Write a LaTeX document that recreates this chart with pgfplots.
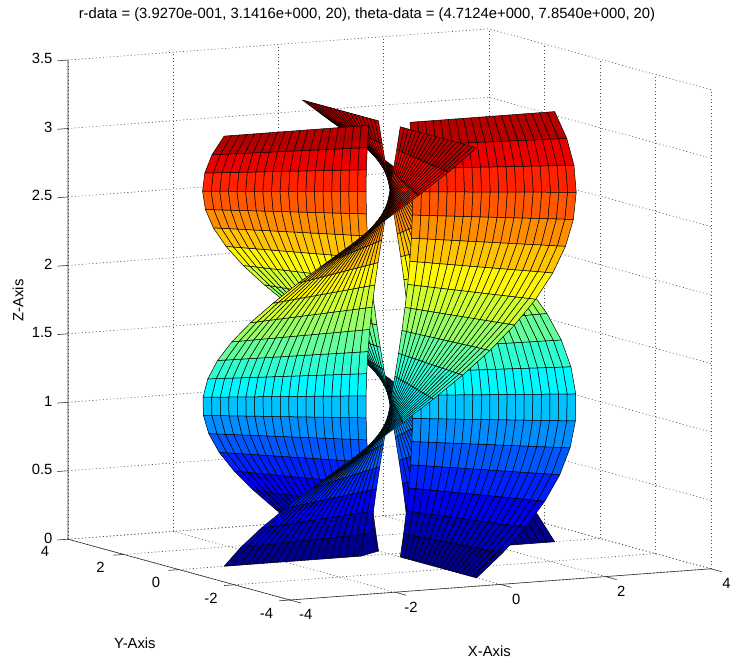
\documentclass[border=0pt]{standalone}
\usepackage{fontspec}
\setmainfont{Liberation Sans}
\usepackage{pgfplots}
\usepackage{pgfplotstable}
\pgfplotsset{compat=1.18}
\pgfplotstableread[row sep=\\]{
x y z\\
0 -0.393 0\\ 0.065 -0.387 0.165\\ 0.128 -0.371 0.331\\ 0.187 -0.345 0.496\\ 0.241 -0.310 0.661\\ 0.289 -0.266 0.827\\ 0.329 -0.215 0.992\\ 0.360 -0.158 1.157\\ 0.381 -0.096 1.323\\ 0.391 -0.032 1.488\\ 0.391 0.032 1.653\\ 0.381 0.096 1.819\\ 0.360 0.158 1.984\\ 0.329 0.215 2.150\\ 0.289 0.266 2.315\\ 0.241 0.310 2.480\\ 0.187 0.345 2.646\\ 0.128 0.371 2.811\\ 0.065 0.387 2.976\\ 0 0.393 3.142\\
0 -0.537 0\\ 0.088 -0.530 0.165\\ 0.174 -0.508 0.331\\ 0.256 -0.473 0.496\\ 0.330 -0.424 0.661\\ 0.395 -0.364 0.827\\ 0.450 -0.294 0.992\\ 0.492 -0.216 1.157\\ 0.521 -0.132 1.323\\ 0.536 -0.044 1.488\\ 0.536 0.044 1.653\\ 0.521 0.132 1.819\\ 0.492 0.216 1.984\\ 0.450 0.294 2.150\\ 0.395 0.364 2.315\\ 0.330 0.424 2.480\\ 0.256 0.473 2.646\\ 0.174 0.508 2.811\\ 0.088 0.530 2.976\\ 0 0.537 3.142\\
0 -0.682 0\\ 0.112 -0.673 0.165\\ 0.221 -0.645 0.331\\ 0.325 -0.600 0.496\\ 0.419 -0.538 0.661\\ 0.502 -0.462 0.827\\ 0.571 -0.373 0.992\\ 0.625 -0.274 1.157\\ 0.661 -0.167 1.323\\ 0.680 -0.056 1.488\\ 0.680 0.056 1.653\\ 0.661 0.167 1.819\\ 0.625 0.274 1.984\\ 0.571 0.373 2.150\\ 0.502 0.462 2.315\\ 0.419 0.538 2.480\\ 0.325 0.600 2.646\\ 0.221 0.645 2.811\\ 0.112 0.673 2.976\\ 0 0.682 3.142\\
0 -0.827 0\\ 0.136 -0.815 0.165\\ 0.268 -0.782 0.331\\ 0.393 -0.727 0.496\\ 0.508 -0.652 0.661\\ 0.608 -0.560 0.827\\ 0.692 -0.452 0.992\\ 0.757 -0.332 1.157\\ 0.801 -0.203 1.323\\ 0.824 -0.068 1.488\\ 0.824 0.068 1.653\\ 0.801 0.203 1.819\\ 0.757 0.332 1.984\\ 0.692 0.452 2.150\\ 0.608 0.560 2.315\\ 0.508 0.652 2.480\\ 0.393 0.727 2.646\\ 0.268 0.782 2.811\\ 0.136 0.815 2.976\\ 0 0.827 3.142\\
0 -0.971 0\\ 0.160 -0.958 0.165\\ 0.315 -0.919 0.331\\ 0.462 -0.854 0.496\\ 0.597 -0.767 0.661\\ 0.715 -0.658 0.827\\ 0.813 -0.531 0.992\\ 0.890 -0.390 1.157\\ 0.942 -0.238 1.323\\ 0.968 -0.080 1.488\\ 0.968 0.080 1.653\\ 0.942 0.238 1.819\\ 0.890 0.390 1.984\\ 0.813 0.531 2.150\\ 0.715 0.658 2.315\\ 0.597 0.767 2.480\\ 0.462 0.854 2.646\\ 0.315 0.919 2.811\\ 0.160 0.958 2.976\\ 0 0.971 3.142\\
0 -1.116 0\\ 0.184 -1.101 0.165\\ 0.362 -1.056 0.331\\ 0.531 -0.982 0.496\\ 0.686 -0.881 0.661\\ 0.821 -0.756 0.827\\ 0.934 -0.611 0.992\\ 1.022 -0.448 1.157\\ 1.082 -0.274 1.323\\ 1.112 -0.092 1.488\\ 1.112 0.092 1.653\\ 1.082 0.274 1.819\\ 1.022 0.448 1.984\\ 0.934 0.611 2.150\\ 0.821 0.756 2.315\\ 0.686 0.881 2.480\\ 0.531 0.982 2.646\\ 0.362 1.056 2.811\\ 0.184 1.101 2.976\\ 0 1.116 3.142\\
0 -1.261 0\\ 0.208 -1.243 0.165\\ 0.409 -1.192 0.331\\ 0.600 -1.109 0.496\\ 0.774 -0.995 0.661\\ 0.928 -0.854 0.827\\ 1.056 -0.690 0.992\\ 1.155 -0.506 1.157\\ 1.222 -0.310 1.323\\ 1.256 -0.104 1.488\\ 1.256 0.104 1.653\\ 1.222 0.310 1.819\\ 1.155 0.506 1.984\\ 1.056 0.690 2.150\\ 0.928 0.854 2.315\\ 0.774 0.995 2.480\\ 0.600 1.109 2.646\\ 0.409 1.192 2.811\\ 0.208 1.243 2.976\\ 0 1.261 3.142\\
0 -1.405 0\\ 0.231 -1.386 0.165\\ 0.456 -1.329 0.331\\ 0.669 -1.236 0.496\\ 0.863 -1.109 0.661\\ 1.034 -0.952 0.827\\ 1.177 -0.769 0.992\\ 1.287 -0.565 1.157\\ 1.362 -0.345 1.323\\ 1.401 -0.116 1.488\\ 1.401 0.116 1.653\\ 1.362 0.345 1.819\\ 1.287 0.565 1.984\\ 1.177 0.769 2.150\\ 1.034 0.952 2.315\\ 0.863 1.109 2.480\\ 0.669 1.236 2.646\\ 0.456 1.329 2.811\\ 0.231 1.386 2.976\\ 0 1.405 3.142\\
0 -1.550 0\\ 0.255 -1.529 0.165\\ 0.503 -1.466 0.331\\ 0.738 -1.363 0.496\\ 0.952 -1.223 0.661\\ 1.140 -1.050 0.827\\ 1.298 -0.848 0.992\\ 1.420 -0.623 1.157\\ 1.503 -0.381 1.323\\ 1.545 -0.128 1.488\\ 1.545 0.128 1.653\\ 1.503 0.381 1.819\\ 1.420 0.623 1.984\\ 1.298 0.848 2.150\\ 1.140 1.050 2.315\\ 0.952 1.223 2.480\\ 0.738 1.363 2.646\\ 0.503 1.466 2.811\\ 0.255 1.529 2.976\\ 0 1.550 3.142\\
0 -1.695 0\\ 0.279 -1.672 0.165\\ 0.550 -1.603 0.331\\ 0.807 -1.491 0.496\\ 1.041 -1.337 0.661\\ 1.247 -1.148 0.827\\ 1.419 -0.927 0.992\\ 1.552 -0.681 1.157\\ 1.643 -0.416 1.323\\ 1.689 -0.140 1.488\\ 1.689 0.140 1.653\\ 1.643 0.416 1.819\\ 1.552 0.681 1.984\\ 1.419 0.927 2.150\\ 1.247 1.148 2.315\\ 1.041 1.337 2.480\\ 0.807 1.491 2.646\\ 0.550 1.603 2.811\\ 0.279 1.672 2.976\\ 0 1.695 3.142\\
0 -1.840 0\\ 0.303 -1.814 0.165\\ 0.597 -1.740 0.331\\ 0.875 -1.618 0.496\\ 1.130 -1.452 0.661\\ 1.353 -1.246 0.827\\ 1.540 -1.006 0.992\\ 1.685 -0.739 1.157\\ 1.783 -0.452 1.323\\ 1.833 -0.152 1.488\\ 1.833 0.152 1.653\\ 1.783 0.452 1.819\\ 1.685 0.739 1.984\\ 1.540 1.006 2.150\\ 1.353 1.246 2.315\\ 1.130 1.452 2.480\\ 0.875 1.618 2.646\\ 0.597 1.740 2.811\\ 0.303 1.814 2.976\\ 0 1.840 3.142\\
0 -1.984 0\\ 0.327 -1.957 0.165\\ 0.644 -1.877 0.331\\ 0.944 -1.745 0.496\\ 1.219 -1.566 0.661\\ 1.460 -1.344 0.827\\ 1.661 -1.085 0.992\\ 1.817 -0.797 1.157\\ 1.923 -0.487 1.323\\ 1.977 -0.164 1.488\\ 1.977 0.164 1.653\\ 1.923 0.487 1.819\\ 1.817 0.797 1.984\\ 1.661 1.085 2.150\\ 1.460 1.344 2.315\\ 1.219 1.566 2.480\\ 0.944 1.745 2.646\\ 0.644 1.877 2.811\\ 0.327 1.957 2.976\\ 0 1.984 3.142\\
0 -2.129 0\\ 0.350 -2.100 0.165\\ 0.691 -2.013 0.331\\ 1.013 -1.872 0.496\\ 1.308 -1.680 0.661\\ 1.566 -1.442 0.827\\ 1.782 -1.164 0.992\\ 1.950 -0.855 1.157\\ 2.064 -0.523 1.323\\ 2.122 -0.176 1.488\\ 2.122 0.176 1.653\\ 2.064 0.523 1.819\\ 1.950 0.855 1.984\\ 1.782 1.164 2.150\\ 1.566 1.442 2.315\\ 1.308 1.680 2.480\\ 1.013 1.872 2.646\\ 0.691 2.013 2.811\\ 0.350 2.100 2.976\\ 0 2.129 3.142\\
0 -2.274 0\\ 0.374 -2.242 0.165\\ 0.738 -2.150 0.331\\ 1.082 -1.999 0.496\\ 1.396 -1.794 0.661\\ 1.673 -1.540 0.827\\ 1.903 -1.244 0.992\\ 2.082 -0.913 1.157\\ 2.204 -0.558 1.323\\ 2.266 -0.188 1.488\\ 2.266 0.188 1.653\\ 2.204 0.558 1.819\\ 2.082 0.913 1.984\\ 1.903 1.244 2.150\\ 1.673 1.540 2.315\\ 1.396 1.794 2.480\\ 1.082 1.999 2.646\\ 0.738 2.150 2.811\\ 0.374 2.242 2.976\\ 0 2.274 3.142\\
0 -2.418 0\\ 0.398 -2.385 0.165\\ 0.785 -2.287 0.331\\ 1.151 -2.127 0.496\\ 1.485 -1.908 0.661\\ 1.779 -1.638 0.827\\ 2.024 -1.323 0.992\\ 2.215 -0.971 1.157\\ 2.344 -0.594 1.323\\ 2.410 -0.200 1.488\\ 2.410 0.200 1.653\\ 2.344 0.594 1.819\\ 2.215 0.971 1.984\\ 2.024 1.323 2.150\\ 1.779 1.638 2.315\\ 1.485 1.908 2.480\\ 1.151 2.127 2.646\\ 0.785 2.287 2.811\\ 0.398 2.385 2.976\\ 0 2.418 3.142\\
0 -2.563 0\\ 0.422 -2.528 0.165\\ 0.832 -2.424 0.331\\ 1.220 -2.254 0.496\\ 1.574 -2.023 0.661\\ 1.886 -1.736 0.827\\ 2.146 -1.402 0.992\\ 2.347 -1.030 1.157\\ 2.484 -0.629 1.323\\ 2.554 -0.212 1.488\\ 2.554 0.212 1.653\\ 2.484 0.629 1.819\\ 2.347 1.030 1.984\\ 2.146 1.402 2.150\\ 1.886 1.736 2.315\\ 1.574 2.023 2.480\\ 1.220 2.254 2.646\\ 0.832 2.424 2.811\\ 0.422 2.528 2.976\\ 0 2.563 3.142\\
0 -2.708 0\\ 0.446 -2.671 0.165\\ 0.879 -2.561 0.331\\ 1.289 -2.381 0.496\\ 1.663 -2.137 0.661\\ 1.992 -1.834 0.827\\ 2.267 -1.481 0.992\\ 2.479 -1.088 1.157\\ 2.625 -0.665 1.323\\ 2.698 -0.224 1.488\\ 2.698 0.224 1.653\\ 2.625 0.665 1.819\\ 2.479 1.088 1.984\\ 2.267 1.481 2.150\\ 1.992 1.834 2.315\\ 1.663 2.137 2.480\\ 1.289 2.381 2.646\\ 0.879 2.561 2.811\\ 0.446 2.671 2.976\\ 0 2.708 3.142\\
0 -2.852 0\\ 0.469 -2.813 0.165\\ 0.926 -2.698 0.331\\ 1.358 -2.508 0.496\\ 1.752 -2.251 0.661\\ 2.098 -1.932 0.827\\ 2.388 -1.560 0.992\\ 2.612 -1.146 1.157\\ 2.765 -0.700 1.323\\ 2.843 -0.235 1.488\\ 2.843 0.235 1.653\\ 2.765 0.700 1.819\\ 2.612 1.146 1.984\\ 2.388 1.560 2.150\\ 2.098 1.932 2.315\\ 1.752 2.251 2.480\\ 1.358 2.508 2.646\\ 0.926 2.698 2.811\\ 0.469 2.813 2.976\\ 0 2.852 3.142\\
0 -2.997 0\\ 0.493 -2.956 0.165\\ 0.973 -2.835 0.331\\ 1.426 -2.636 0.496\\ 1.841 -2.365 0.661\\ 2.205 -2.030 0.827\\ 2.509 -1.639 0.992\\ 2.744 -1.204 1.157\\ 2.905 -0.736 1.323\\ 2.987 -0.247 1.488\\ 2.987 0.247 1.653\\ 2.905 0.736 1.819\\ 2.744 1.204 1.984\\ 2.509 1.639 2.150\\ 2.205 2.030 2.315\\ 1.841 2.365 2.480\\ 1.426 2.636 2.646\\ 0.973 2.835 2.811\\ 0.493 2.956 2.976\\ 0 2.997 3.142\\
0 -3.142 0\\ 0.517 -3.099 0.165\\ 1.020 -2.971 0.331\\ 1.495 -2.763 0.496\\ 1.930 -2.479 0.661\\ 2.311 -2.128 0.827\\ 2.630 -1.718 0.992\\ 2.877 -1.262 1.157\\ 3.045 -0.771 1.323\\ 3.131 -0.259 1.488\\ 3.131 0.259 1.653\\ 3.045 0.771 1.819\\ 2.877 1.262 1.984\\ 2.630 1.718 2.150\\ 2.311 2.128 2.315\\ 1.930 2.479 2.480\\ 1.495 2.763 2.646\\ 1.020 2.971 2.811\\ 0.517 3.099 2.976\\ 0 3.142 3.142\\
}\blade
\pgfplotstablevertcat{\all}{\blade}
\pgfplotstablevertcat{\all}{\blade}
\pgfplotstablevertcat{\all}{\blade}
\pgfplotstablevertcat{\all}{\blade}
% connectivity of the 19x19 quadrilaterals of each of the four blades
\newwrite\connfile
\immediate\openout\connfile=conn.dat
\foreach \k in {0,1,2,3}{\foreach \j in {0,...,18}{\foreach \i in {0,...,18}{%
  \edef\qa{\the\numexpr 400*\k+20*\j+\i\relax}%
  \edef\qb{\the\numexpr \qa+20\relax}%
  \edef\qc{\the\numexpr \qa+21\relax}%
  \edef\qd{\the\numexpr \qa+1\relax}%
  \immediate\write\connfile{\qa\space\qb\space\qc\space\qd}%
}}}
\immediate\closeout\connfile
\newcommand{\txt}{\fontsize{14.8}{17}\selectfont}
\begin{document}
\begin{tikzpicture}
\path[use as bounding box] (0pt,0pt) rectangle (731pt,666pt);
\begin{axis}[
  at={(389.4pt,112pt)}, anchor=origin,
  x={(52.6pt,3.9pt)}, y={(-27.75pt,7.6pt)}, z={(0pt,136.9pt)},
  xmin=-4, xmax=4, ymin=-4, ymax=4, zmin=0, zmax=3.5,
  xtick={-4,-2,0,2,4}, ytick={-4,-2,0,2,4}, ztick={0,0.5,1,1.5,2,2.5,3,3.5},
  clip=false,
  axis line style={draw=none},
  grid=major,
  major grid style={dash pattern=on 1pt off 2.5pt, black!70, line width=0.6pt},
  tick style={draw=none},
  major tick length=7pt,
  tick label style={font=\txt},
  xticklabel style={xshift=9pt, yshift=-6pt},
  yticklabel style={xshift=-15pt, yshift=-4pt},
  zticklabel style={xshift=-12pt},
  /pgf/number format/assume math mode=true,
  point meta min=0.0827, point meta max=3.2243,
  colormap={mjet}{rgb=(0,0,.5) rgb=(0,0,1) rgb=(0,.5,1) rgb=(0,1,1) rgb=(.5,1,.5) rgb=(1,1,0) rgb=(1,.5,0) rgb=(1,0,0) rgb=(.5,0,0)},
  title={r-data = (3.9270e-001, 3.1416e+000, 20), theta-data = (4.7124e+000, 7.8540e+000, 20)},
  title style={font=\txt, anchor=center, yshift=-8pt, at={(axis cs:-0.426,0,3.964)}},
  xlabel={X-Axis}, xlabel style={font=\txt, anchor=center, at={(axis cs:1.9,0,-0.763)}},
  ylabel={Y-Axis}, ylabel style={font=\txt, anchor=center, rotate=0, at={(axis cs:0,9.17,-1.159)}},
  zlabel={Z-Axis}, zlabel style={font=\txt, anchor=center, at={(axis cs:0,13.38,1.11)}},
]
\addplot3[patch, patch type=rectangle, patch table={conn.dat},
  shader=faceted, faceted color=black, line width=0.5pt, z buffer=sort, point meta=z]
  table[x expr={\thisrow{x}*cos(90*floor(\coordindex/400))-\thisrow{y}*sin(90*floor(\coordindex/400))},
        y expr={\thisrow{x}*sin(90*floor(\coordindex/400))+\thisrow{y}*cos(90*floor(\coordindex/400))},
        z=z] {\all};
\draw[black!80, line width=0.6pt] (axis cs:-4,4,3.5) -- (axis cs:-4,4,0) -- (axis cs:-4,-4,0) -- (axis cs:4,-4,0);
\draw[black!80, line width=0.6pt]
  (axis cs:-4,-4,0) -- (axis cs:-4,-4.4,0) (axis cs:-2,-4,0) -- (axis cs:-2,-4.4,0)
  (axis cs:0,-4,0) -- (axis cs:0,-4.4,0) (axis cs:2,-4,0) -- (axis cs:2,-4.4,0) (axis cs:4,-4,0) -- (axis cs:4,-4.4,0)
  (axis cs:-4,-4,0) -- (axis cs:-4.2,-4,0) (axis cs:-4,-2,0) -- (axis cs:-4.2,-2,0)
  (axis cs:-4,0,0) -- (axis cs:-4.2,0,0) (axis cs:-4,2,0) -- (axis cs:-4.2,2,0) (axis cs:-4,4,0) -- (axis cs:-4.2,4,0)
  (axis cs:-4,4,0.5) -- (axis cs:-4.2,4,0.5) (axis cs:-4,4,1) -- (axis cs:-4.2,4,1) (axis cs:-4,4,1.5) -- (axis cs:-4.2,4,1.5)
  (axis cs:-4,4,2) -- (axis cs:-4.2,4,2) (axis cs:-4,4,2.5) -- (axis cs:-4.2,4,2.5) (axis cs:-4,4,3) -- (axis cs:-4.2,4,3) (axis cs:-4,4,3.5) -- (axis cs:-4.2,4,3.5);
\end{axis}
\end{tikzpicture}
\end{document}
